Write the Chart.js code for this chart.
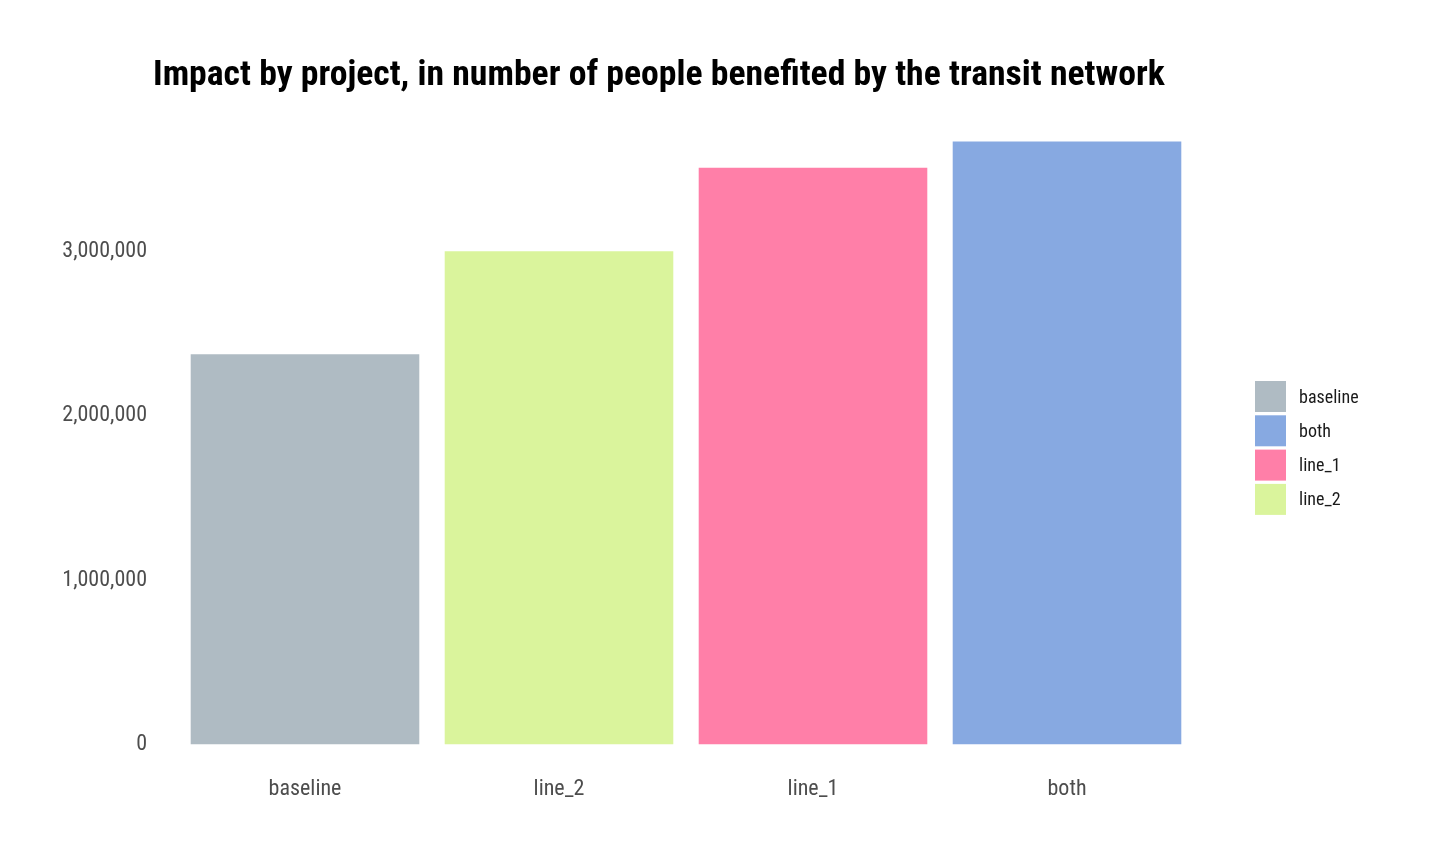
<!DOCTYPE html>
<html>
<head>
<meta charset="utf-8">
<script src="https://cdn.jsdelivr.net/npm/chart.js@4.4.0/dist/chart.umd.min.js"></script>
<style>
  html, body { margin: 0; padding: 0; background: #ffffff; }
  #wrap { width: 1430px; height: 861px; }
</style>
</head>
<body>
<div id="wrap"><canvas id="chart" width="1430" height="861"></canvas></div>
<script>
// data
var categories = ["baseline", "line_2", "line_1", "both"];
var people     = [2375000, 3002000, 3509000, 3669000];
var barColors  = ["#afbbc3", "#daf49c", "#ff7fa8", "#87a9e1"];
var legendOrder = ["baseline", "both", "line_1", "line_2"];
var yTicks = [0, 1000000, 2000000, 3000000];
var chartTitle = "Impact by project, in number of people benefited by the transit network";

var condensed = '"Roboto Condensed", Roboto, sans-serif';

// title left-aligned over the plot, like ggplot does it
var plotTitle = {
    id: 'plotTitle',
    afterDraw: function(chart) {
        var ctx = chart.ctx;
        ctx.save();
        ctx.font = 'bold 35.7px ' + condensed;
        ctx.fillStyle = '#000000';
        ctx.textBaseline = 'alphabetic';
        ctx.fillText(chartTitle, 153, 85);
        ctx.restore();
    }
};

// legend at the right, ggplot style
var sideLegend = {
    id: 'sideLegend',
    afterDraw: function(chart) {
        var ctx = chart.ctx;
        var x = 1255, y = 381, box = 31, step = 34.3;
        ctx.save();
        ctx.font = '18px ' + condensed;
        ctx.textBaseline = 'middle';
        legendOrder.forEach(function(name, i) {
            var idx = chart.data.labels.indexOf(name);
            ctx.fillStyle = chart.data.datasets[0].backgroundColor[idx];
            ctx.fillRect(x, y + i * step, box, box);
            ctx.fillStyle = '#1a1a1a';
            ctx.fillText(name, x + 44, y + i * step + box / 2 + 1.5);
        });
        ctx.restore();
    }
};

var ctx = document.getElementById("chart").getContext('2d');
var chart = new Chart(ctx, {
    type: 'bar',
    data: {
        labels: categories,
        datasets: [{
            data: people,
            backgroundColor: barColors,
            borderWidth: 0,
            categoryPercentage: 0.9,
            barPercentage: 1.0
        }]
    },
    options: {
        responsive: false,
        animation: false,
        layout: { padding: { left: 0, right: 236, top: 120, bottom: 34 } },
        plugins: {
            legend: { display: false },
            tooltip: { enabled: false },
            title: { display: false }
        },
        scales: {
            x: {
                grid: { display: false },
                border: { display: false },
                ticks: {
                    color: '#4d4d4d',
                    font: { family: condensed, size: 22 },
                    padding: 24
                }
            },
            y: {
                min: 0,
                max: 3800000,
                afterFit: function(scale) { scale.width = 178; },
                afterBuildTicks: function(scale) {
                    scale.ticks = yTicks.map(function(v) { return { value: v }; });
                },
                grid: { display: false },
                border: { display: false },
                ticks: {
                    color: '#4d4d4d',
                    font: { family: condensed, size: 22 },
                    padding: 23,
                    callback: function(v) { return v.toLocaleString('en-US'); }
                }
            }
        }
    },
    plugins: [plotTitle, sideLegend]
});
</script>
</body>
</html>
